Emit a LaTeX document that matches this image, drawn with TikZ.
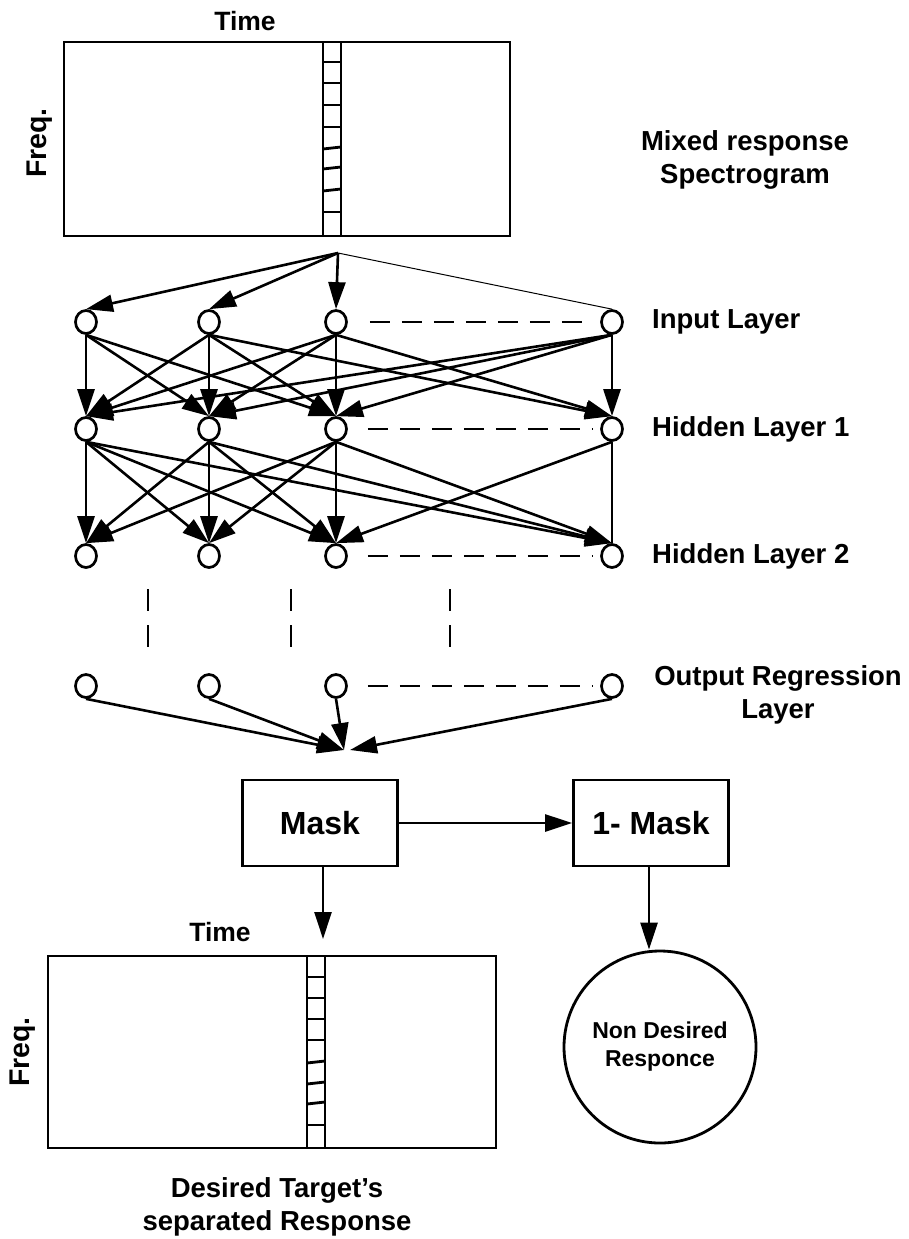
\documentclass[tikz,border=0pt]{standalone}
\usepackage{fontspec}
\setmainfont{Liberation Sans}
\usetikzlibrary{arrows.meta,shapes.geometric}

\begin{document}
\begin{tikzpicture}[x=1pt,y=-1pt,
  neuron/.style={draw, ellipse, line width=2.7pt, minimum width=21pt, minimum height=23pt, inner sep=0pt},
  link/.style={line width=2.6pt, -{Triangle[length=27pt,width=17pt]}},
  plainlink/.style={line width=2.6pt},
  thinlink/.style={line width=1pt},
  dashrow/.style={line width=2.7pt, dash pattern=on 20pt off 12pt},
  dashcol/.style={line width=2.6pt, dash pattern=on 22pt off 14pt},
  frame/.style={line width=2.8pt},
  box/.style={draw, line width=2.8pt, minimum width=155pt, minimum height=86pt, inner sep=0pt,
    font=\fontsize{32}{36}\selectfont\bfseries},
  lbl/.style={font=\fontsize{27.5}{33}\selectfont\bfseries, align=center, inner sep=0pt},
  timelbl/.style={font=\fontsize{26.5}{30}\selectfont\bfseries, inner sep=0pt},
  freqlbl/.style={font=\fontsize{28.5}{32}\selectfont\bfseries, inner sep=0pt, rotate=90}
]
\useasboundingbox (0,0) rectangle (909,1239);

% ---------- mixed spectrogram ----------
\draw[frame] (64,42) rectangle (510,236);
\draw[frame] (323,42) rectangle (341,236);
\foreach \yy in {62,83,105,127,212}
  \draw[frame] (323,\yy) -- (341,\yy);
\foreach \yy in {148,168,190}
  \draw[frame] (323,\yy+1) -- (341,\yy-1);
\node[timelbl] (t1) at (245,21) {Time};
\node[freqlbl] (f1) at (40,143) {Freq.};
\node[lbl] (mix) at (745,160) {Mixed response\\Spectrogram};

\coordinate (apex) at (338,253);

% ---------- network ----------
\foreach \c/\xx in {1/86,2/209,3/336,4/612}{
  \node[neuron] (i\c) at (\xx,322) {};
  \node[neuron] (h\c) at (\xx,429) {};
  \node[neuron] (g\c) at (\xx,556) {};
  \node[neuron] (o\c) at (\xx,686) {};
}

\node[lbl, anchor=west] (li) at (652,322) {Input Layer};
\node[lbl, anchor=west] (lh1) at (652,429) {Hidden Layer 1};
\node[lbl, anchor=west] (lh2) at (652,556) {Hidden Layer 2};
\node[lbl] (lo) at (778,695) {Output Regression\\Layer};

% spectrogram column feeding the input layer
\draw[link] (apex) -- (i1.north);
\draw[link] (apex) -- (i2.north);
\draw[link] (apex) -- (i3.north);
\draw[thinlink] (apex) -- (i4.north);

% input -> hidden 1 (each link leaves a unit at its bottom, enters at the top)
\foreach \s/\t in {1/1,1/2,1/3,2/1,2/2,2/3,2/4,3/1,3/2,3/3,3/4,4/1,4/2,4/3,4/4}
  \draw[link] (i\s.south) -- (h\t.north);

% hidden 1 -> hidden 2
\foreach \s/\t in {1/1,1/2,1/3,1/4,2/1,2/2,2/3,2/4,3/1,3/2,3/3,3/4,4/3}
  \draw[link] (h\s.south) -- (g\t.north);
\draw[plainlink] (h4.south) -- (g4.north);

% elided units along each row
\draw[dashrow, shorten <=22pt, shorten >=7pt] (i3) -- (i4);
\draw[dashrow, shorten <=20pt, shorten >=7pt] (h3) -- (h4);
\draw[dashrow, shorten <=20pt, shorten >=7pt] (g3) -- (g4);
\draw[dashrow, shorten <=20pt, shorten >=7pt] (o3) -- (o4);

% elided layers between hidden 2 and output
\foreach \xx in {148,291,450}
  \draw[dashcol] (\xx,589) -- (\xx,647);

% output -> mask estimate
\coordinate (conv) at (344,750);
\coordinate (convr) at (350,750);
\draw[link] (o1.south) -- (conv);
\draw[link] (o2.south) -- (conv);
\draw[link] (o3.south) -- (conv);
\draw[link] (o4.south) -- (convr);

% ---------- masks ----------
\node[box] (mask) at (320,823) {Mask};
\node[box] (imask) at (651,823) {1- Mask};
\draw[link] (mask) -- (imask);

\coordinate (tgt) at (323,939);
\draw[link] (mask.south -| tgt) -- (tgt);

\node[draw, circle, line width=2.8pt, minimum size=192pt, inner sep=0pt,
      font=\fontsize{23}{28}\selectfont\bfseries, align=center] (nd) at (660,1047)
  {Non Desired\\Responce};
\coordinate (ndx) at (649,0);
\draw[link] (imask.south -| ndx) -- (nd.north -| ndx);

% ---------- separated spectrogram ----------
\draw[frame] (48,956) rectangle (496,1148);
\draw[frame] (307,956) rectangle (325,1148);
\foreach \yy in {977,998,1019,1040,1125}
  \draw[frame] (307,\yy) -- (325,\yy);
\foreach \yy in {1062,1083,1103}
  \draw[frame] (307,\yy+1) -- (325,\yy-1);
\node[timelbl] (t2) at (220,932) {Time};
\node[freqlbl] (f2) at (23,1052) {Freq.};
\node[lbl] (des) at (277,1207) {Desired Target’s\\separated Response};
\end{tikzpicture}
\end{document}
